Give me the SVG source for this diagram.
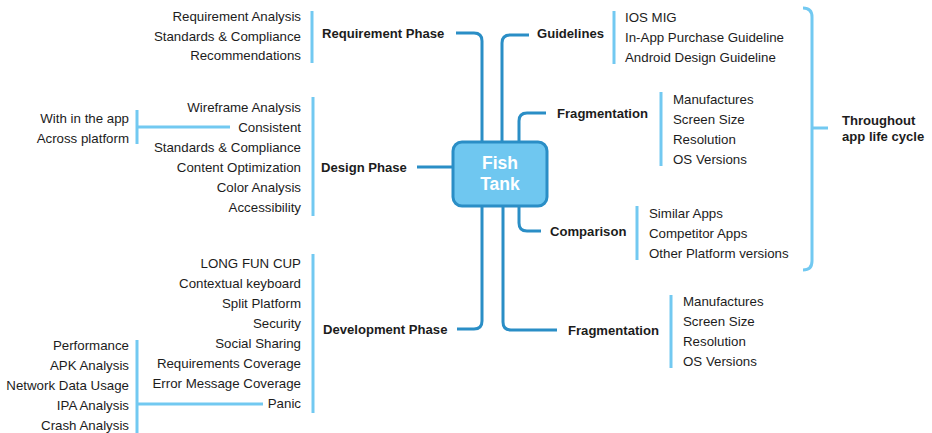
<svg xmlns="http://www.w3.org/2000/svg" width="932" height="433" viewBox="0 0 932 433">
  <style>
    text { font-family: "Liberation Sans", Arial, sans-serif; font-size: 13.3px; fill: #1c1c1c; }
    .b { font-weight: bold; font-size: 13.1px; }
    .r { text-anchor: end; }
    .conn { fill: none; stroke: #2a8ec6; stroke-width: 3; }
    .brk { fill: none; stroke: #72c9f1; stroke-width: 3; }
    .hub { fill: #6fc7f0; stroke: #2a8ec6; stroke-width: 3; }
    .hubtxt { font-size: 17.5px; font-weight: bold; fill: #ffffff; text-anchor: middle; }
  </style>
  <rect width="932" height="433" fill="#ffffff"/>

  <!-- trunk connectors from the hub to each branch label -->
  <g id="connectors">
    <path class="conn" d="M482 142 V41 Q482 33 474 33 H456"/>
    <path class="conn" d="M502 142 V43 Q502 35 510 35 H529"/>
    <path class="conn" d="M519 142 V121 Q519 113 527 113 H546"/>
    <path class="conn" d="M519 206 V223 Q519 231 527 231 H541"/>
    <path class="conn" d="M503 206 V322 Q503 330 511 330 H557"/>
    <path class="conn" d="M482 206 V321 Q482 329 474 329 H457"/>
    <path class="conn" d="M453 167 H417"/>
  </g>

  <g id="hub">
    <rect class="hub" x="453" y="142" width="94" height="64" rx="9"/>
    <text class="hubtxt" x="500" y="169">Fish</text>
    <text class="hubtxt" x="500" y="190">Tank</text>
  </g>

  <g id="requirement-phase">
    <text class="b" x="322" y="37.5">Requirement Phase</text>
    <line class="brk" x1="312" y1="11" x2="312" y2="63"/>
    <text class="r" x="301" y="20.5">Requirement Analysis</text>
    <text class="r" x="301" y="40.5">Standards &amp; Compliance</text>
    <text class="r" x="301" y="60">Recommendations</text>
  </g>

  <g id="design-phase">
    <text class="b" x="321" y="171.5">Design Phase</text>
    <line class="brk" x1="313" y1="97" x2="313" y2="216"/>
    <text class="r" x="301" y="111.5">Wireframe Analysis</text>
    <text class="r" x="301" y="131.5">Consistent</text>
    <text class="r" x="301" y="151.5">Standards &amp; Compliance</text>
    <text class="r" x="301" y="171.5">Content Optimization</text>
    <text class="r" x="301" y="191.5">Color Analysis</text>
    <text class="r" x="301" y="211.5">Accessibility</text>
  </g>

  <g id="consistent">
    <path class="brk" d="M230 127 H137 M137 110 V144"/>
    <text class="r" x="129" y="122.5">With in the app</text>
    <text class="r" x="129" y="142.5">Across platform</text>
  </g>

  <g id="development-phase">
    <text class="b" x="323" y="333.5">Development Phase</text>
    <line class="brk" x1="313" y1="254" x2="313" y2="413"/>
    <text class="r" x="301" y="267.5">LONG FUN CUP</text>
    <text class="r" x="301" y="287.5">Contextual keyboard</text>
    <text class="r" x="301" y="307.5">Split Platform</text>
    <text class="r" x="301" y="327.5">Security</text>
    <text class="r" x="301" y="347.5">Social Sharing</text>
    <text class="r" x="301" y="367.5">Requirements Coverage</text>
    <text class="r" x="301" y="387.5">Error Message Coverage</text>
    <text class="r" x="301" y="407.5">Panic</text>
  </g>

  <g id="panic">
    <path class="brk" d="M263 404 H137 M137 340 V433"/>
    <text class="r" x="129" y="349.5">Performance</text>
    <text class="r" x="129" y="369.5">APK Analysis</text>
    <text class="r" x="129" y="389.5">Network Data Usage</text>
    <text class="r" x="129" y="409.5">IPA Analysis</text>
    <text class="r" x="129" y="429.5">Crash Analysis</text>
  </g>

  <g id="guidelines">
    <text class="b" x="537" y="37.5">Guidelines</text>
    <line class="brk" x1="614" y1="11" x2="614" y2="64"/>
    <text x="625" y="21.5">IOS MIG</text>
    <text x="625" y="41.5">In-App Purchase Guideline</text>
    <text x="625" y="61.5">Android Design Guideline</text>
  </g>

  <g id="fragmentation-top">
    <text class="b" x="557" y="117.5">Fragmentation</text>
    <line class="brk" x1="661" y1="92" x2="661" y2="166"/>
    <text x="673" y="103.5">Manufactures</text>
    <text x="673" y="123.5">Screen Size</text>
    <text x="673" y="143.5">Resolution</text>
    <text x="673" y="163.5">OS Versions</text>
  </g>

  <g id="comparison">
    <text class="b" x="550" y="235.5">Comparison</text>
    <line class="brk" x1="637" y1="206" x2="637" y2="260"/>
    <text x="649" y="217.5">Similar Apps</text>
    <text x="649" y="237.5">Competitor Apps</text>
    <text x="649" y="257.5">Other Platform versions</text>
  </g>

  <g id="fragmentation-bottom">
    <text class="b" x="568" y="334.5">Fragmentation</text>
    <line class="brk" x1="671" y1="295" x2="671" y2="368"/>
    <text x="683" y="305.5">Manufactures</text>
    <text x="683" y="325.5">Screen Size</text>
    <text x="683" y="345.5">Resolution</text>
    <text x="683" y="365.5">OS Versions</text>
  </g>

  <g id="app-life-cycle">
    <path class="brk" d="M803 8 Q812 8 812 17 V261 Q812 270 803 270 M812 128 H828"/>
    <text class="b" x="842" y="124.5">Throughout</text>
    <text class="b" x="842" y="140.5">app life cycle</text>
  </g>
</svg>
